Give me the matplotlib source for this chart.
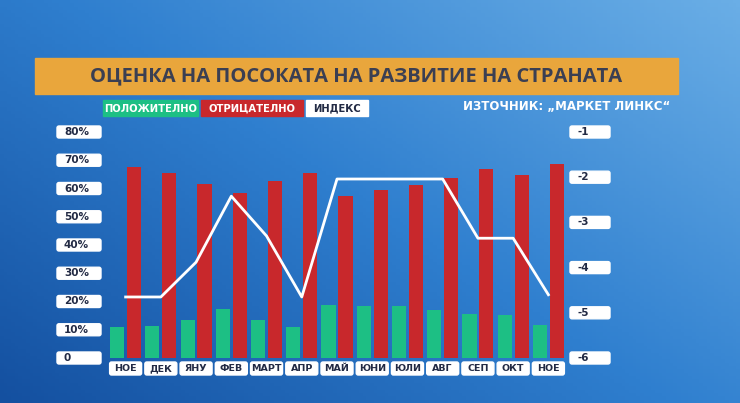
import matplotlib
matplotlib.use("Agg")
import matplotlib.pyplot as plt
import numpy as np
from matplotlib.patches import FancyBboxPatch, Rectangle
from matplotlib.colors import LinearSegmentedColormap

months = ["НОЕ","ДЕК","ЯНУ","ФЕВ","МАРТ","АПР","МАЙ","ЮНИ","ЮЛИ","АВГ","СЕП","ОКТ","НОЕ"]
positive = [11, 11.3, 13.5, 17.3, 13.5, 11, 18.8, 18.4, 18.4, 17, 15.6, 15.2, 11.7]
negative = [67.6, 65.5, 61.6, 58.4, 62.7, 65.5, 57.3, 59.5, 61.2, 63.7, 67, 64.8, 68.7]
index = [-4.65, -4.65, -3.88, -2.42, -3.3, -4.65, -2.04, -2.04, -2.04, -2.04, -3.35, -3.35, -4.6]
left_ticks = [0, 10, 20, 30, 40, 50, 60, 70, 80]
right_ticks = [-6, -5, -4, -3, -2, -1]

W, H = 740, 403
fig = plt.figure(figsize=(7.4, 4.03), dpi=100)
bg = fig.add_axes([0, 0, 1, 1])
xx = np.linspace(0, 1, 200)
yy = np.linspace(0, 1, 120)
X, Y = np.meshgrid(xx, yy)
grad = 0.55 * X + 0.45 * (1 - Y)
cmap = LinearSegmentedColormap.from_list("b", ["#1450a0", "#2f7fcf", "#6aaee6"])
bg.imshow(grad, cmap=cmap, extent=[0, W, 0, H], aspect="auto", origin="lower")
bg.set_xlim(0, W); bg.set_ylim(H, 0); bg.axis("off")

# title banner
bg.add_patch(Rectangle((35, 58), 643, 36, color="#e9a63c", zorder=2))
bg.text(356, 76, "ОЦЕНКА НА ПОСОКАТА НА РАЗВИТИЕ НА СТРАНАТА", ha="center", va="center",
        fontsize=14.5, color="#3b3f52", fontweight="bold", family="Open Sans", zorder=3)

# legend
for x0, w, col, tc, lab in [(103, 95, "#1dbf84", "white", "ПОЛОЖИТЕЛНО"),
                             (201, 102, "#c8282c", "white", "ОТРИЦАТЕЛНО"),
                             (306, 62, "white", "#222a44", "ИНДЕКС")]:
    bg.add_patch(Rectangle((x0, 100), w, 16, color=col, zorder=2))
    bg.text(x0 + w / 2, 108.5, lab, ha="center", va="center", fontsize=7.2, color=tc,
            fontweight="bold", zorder=3)
bg.text(670, 107, "ИЗТОЧНИК: „МАРКЕТ ЛИНКС“", ha="right", va="center", fontsize=8.5,
        color="white", fontweight="bold")

# main axes
y0, y80 = 358, 132
ax = fig.add_axes([108 / W, (H - y0) / H, 458 / W, (y0 - y80) / H])
ax.patch.set_alpha(0)
x = np.arange(len(months))
ax.bar(x - 0.24, positive, width=0.4, color="#1dbf84", zorder=2)
ax.bar(x + 0.24, negative, width=0.4, color="#c8282c", zorder=2)
ax.set_xlim(-0.5, len(months) - 0.5)
ax.set_ylim(0, 80)
ax.axis("off")
ax2 = ax.twinx()
ax2.plot(x, index, color="white", lw=2, zorder=3)
ax2.set_ylim(-6, -1)
ax2.axis("off")

# tick label boxes
for t in left_ticks:
    yp = y0 - (y0 - y80) * t / 80
    bg.add_patch(FancyBboxPatch((57, yp - 6), 44, 12, boxstyle="round,pad=0,rounding_size=2",
                                color="white", zorder=2))
    bg.text(64, yp, f"{t}%" if t else "0", ha="left", va="center", fontsize=7.5,
            color="#222a44", fontweight="bold", zorder=3)
for t in right_ticks:
    yp = y0 - (y0 - y80) * (t + 6) / 5
    bg.add_patch(FancyBboxPatch((570, yp - 6), 40, 12, boxstyle="round,pad=0,rounding_size=2",
                                color="white", zorder=2))
    bg.text(577, yp, f"-{abs(t)}", ha="left", va="center", fontsize=7.5,
            color="#222a44", fontweight="bold", zorder=3)
step = 458 / len(months)
for i, m in enumerate(months):
    xc = 108 + step * (i + 0.5)
    bg.add_patch(FancyBboxPatch((xc - 16, 362), 32, 13, boxstyle="round,pad=0,rounding_size=2",
                                color="white", zorder=2))
    bg.text(xc, 368.5, m, ha="center", va="center", fontsize=6.8, color="#222a44",
            fontweight="bold", zorder=3)

fig.savefig("out.png", dpi=100)
